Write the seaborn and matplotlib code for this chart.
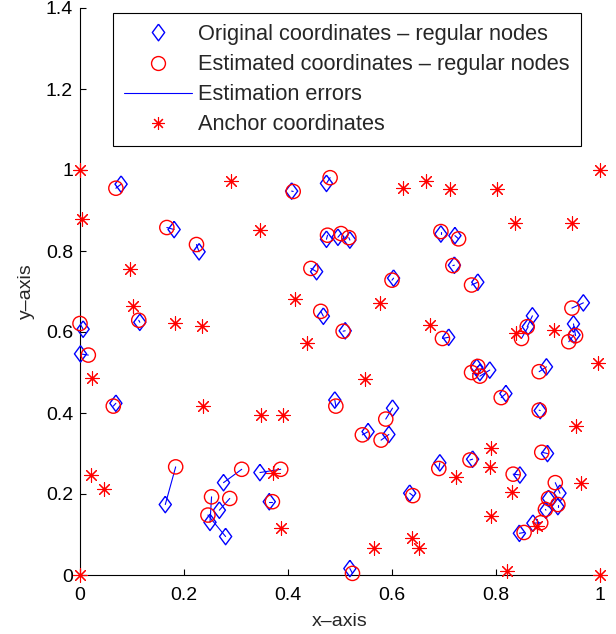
import numpy as np
import pandas as pd
import seaborn as sns
import matplotlib.pyplot as plt
from matplotlib.lines import Line2D

# anchor nodes (red stars)
anchor_x = [0.0, 0.004, 0.291, 0.347, 0.096, 0.101, 0.183, 0.234, 0.622, 0.665,
            0.414, 0.576, 0.437, 0.674, 0.711, 0.801, 1.0, 0.836, 0.947, 0.838,
            0.911, 0.997, 0.953, 0.790, 0.788, 0.723, 0.831, 0.790, 0.878, 0.822,
            1.0, 0.963, 0.024, 0.237, 0.021, 0.047, 0.0, 0.548, 0.349, 0.390,
            0.372, 0.386, 0.639, 0.652, 0.566]
anchor_y = [1.0, 0.879, 0.973, 0.853, 0.755, 0.663, 0.623, 0.616, 0.955, 0.974,
            0.681, 0.671, 0.574, 0.618, 0.952, 0.952, 1.0, 0.868, 0.870, 0.598,
            0.605, 0.523, 0.368, 0.314, 0.267, 0.243, 0.204, 0.146, 0.121, 0.011,
            0.0, 0.228, 0.486, 0.417, 0.247, 0.212, 0.0, 0.483, 0.395, 0.395,
            0.253, 0.117, 0.092, 0.066, 0.066]

# regular nodes: original coordinates
orig_x = [0.079, 0.181, 0.229, 0.115, 0.006, 0.001, 0.407, 0.474, 0.474, 0.496,
          0.519, 0.455, 0.603, 0.468, 0.510, 0.694, 0.721, 0.720, 0.765, 0.968,
          0.709, 0.870, 0.862, 0.949, 0.950, 0.763, 0.769, 0.788, 0.897, 0.819,
          0.885, 0.899, 0.755, 0.692, 0.846, 0.923, 0.901, 0.919, 0.896, 0.871,
          0.845, 0.069, 0.164, 0.276, 0.250, 0.280, 0.268, 0.490, 0.601, 0.554,
          0.594, 0.346, 0.364, 0.634, 0.519]
orig_y = [0.965, 0.853, 0.798, 0.624, 0.607, 0.546, 0.948, 0.967, 0.829, 0.834,
          0.827, 0.749, 0.733, 0.639, 0.603, 0.842, 0.838, 0.765, 0.723, 0.672,
          0.587, 0.640, 0.613, 0.620, 0.593, 0.513, 0.500, 0.506, 0.514, 0.448,
          0.406, 0.300, 0.286, 0.277, 0.247, 0.202, 0.189, 0.169, 0.160, 0.128,
          0.103, 0.424, 0.174, 0.228, 0.130, 0.095, 0.160, 0.432, 0.412, 0.354,
          0.347, 0.253, 0.181, 0.202, 0.016]

# regular nodes: estimated coordinates
est_x = [0.069, 0.167, 0.224, 0.113, 0.0, 0.016, 0.410, 0.481, 0.476, 0.502,
         0.517, 0.444, 0.600, 0.463, 0.506, 0.694, 0.728, 0.717, 0.753, 0.946,
         0.697, 0.860, 0.849, 0.953, 0.940, 0.765, 0.753, 0.769, 0.883, 0.810,
         0.883, 0.888, 0.750, 0.690, 0.833, 0.914, 0.901, 0.919, 0.895, 0.886,
         0.854, 0.064, 0.184, 0.311, 0.253, 0.246, 0.288, 0.492, 0.588, 0.543,
         0.579, 0.386, 0.370, 0.640, 0.524]
est_y = [0.955, 0.858, 0.816, 0.629, 0.621, 0.543, 0.947, 0.981, 0.839, 0.843,
         0.833, 0.757, 0.728, 0.651, 0.602, 0.848, 0.830, 0.764, 0.716, 0.659,
         0.584, 0.613, 0.584, 0.591, 0.576, 0.515, 0.500, 0.491, 0.502, 0.438,
         0.407, 0.303, 0.284, 0.263, 0.249, 0.228, 0.189, 0.174, 0.162, 0.129,
         0.105, 0.417, 0.267, 0.261, 0.193, 0.148, 0.189, 0.417, 0.385, 0.346,
         0.333, 0.261, 0.181, 0.196, 0.004]

x_ticks = [0, 0.2, 0.4, 0.6, 0.8, 1]
x_tick_labels = ['0', '0.2', '0.4', '0.6', '0.8', '1']
y_ticks = [0, 0.2, 0.4, 0.6, 0.8, 1, 1.2, 1.4]
y_tick_labels = ['0', '0.2', '0.4', '0.6', '0.8', '1', '1.2', '1.4']

sns.set_style('ticks')
plt.rcParams['font.family'] = ['Liberation Sans', 'DejaVu Sans']

# MATLAB-like diamond, a bit taller than wide
diamond = [(0, 1), (0.74, 0), (0, -1), (-0.74, 0), (0, 1)]
asterisk = (8, 2, 0)

n = len(orig_x)
err_df = pd.DataFrame({
    'node': list(range(n)) * 2,
    'x': orig_x + est_x,
    'y': orig_y + est_y,
    'order': [0] * n + [1] * n,
}).sort_values(['node', 'order'])

fig = plt.figure(figsize=(6.16, 6.34), dpi=100)
ax = fig.add_axes([80 / 616, 59 / 634, 520 / 616, 567 / 634])

# error lines between original and estimated positions
sns.lineplot(data=err_df, x='x', y='y', units='node', estimator=None, sort=False,
             color='blue', lw=0.8, ax=ax, legend=False)

sns.scatterplot(x=orig_x, y=orig_y, marker=diamond, s=140, facecolor='none',
                edgecolor='blue', linewidth=1, ax=ax, clip_on=False, zorder=3)
sns.scatterplot(x=est_x, y=est_y, marker='o', s=105, facecolor='none',
                edgecolor='red', linewidth=1, ax=ax, clip_on=False, zorder=3)
sns.scatterplot(x=anchor_x, y=anchor_y, marker=asterisk, s=95, color='red',
                linewidth=0.8, ax=ax, clip_on=False, zorder=3)

ax.set_xlim(0, 1)
ax.set_ylim(0, 1.4)
ax.set_xticks(x_ticks)
ax.set_xticklabels(x_tick_labels)
ax.set_yticks(y_ticks)
ax.set_yticklabels(y_tick_labels)
ax.tick_params(direction='in', length=4, width=0.8, labelsize=14, colors='black')
ax.tick_params(axis='x', pad=9)
ax.tick_params(axis='y', pad=5)
sns.despine(ax=ax)
for s in ['left', 'bottom']:
    ax.spines[s].set_color('black')
    ax.spines[s].set_linewidth(0.8)
ax.set_xlabel('x–axis', fontsize=14, labelpad=6)
ax.set_ylabel('y–axis', fontsize=14, labelpad=8)

handles = [
    Line2D([], [], marker=diamond, ls='', mfc='none', mec='blue', ms=12, mew=1),
    Line2D([], [], marker='o', ls='', mfc='none', mec='red', ms=10, mew=1),
    Line2D([], [], color='blue', lw=0.8),
    Line2D([], [], marker=asterisk, ls='', color='red', ms=9, mew=0.8),
]
labels = ['Original coordinates – regular nodes',
          'Estimated coordinates – regular nodes',
          'Estimation errors',
          'Anchor coordinates']
leg = ax.legend(handles, labels, loc='upper left', bbox_to_anchor=(0.0635, 0.991),
                fontsize=15.7, frameon=True, fancybox=False, framealpha=1,
                edgecolor='black', handlelength=3.12, handletextpad=0.3,
                labelspacing=0.42, borderpad=0.5, borderaxespad=0)
leg.get_frame().set_linewidth(0.8)

plt.savefig('out.png', dpi=100)
